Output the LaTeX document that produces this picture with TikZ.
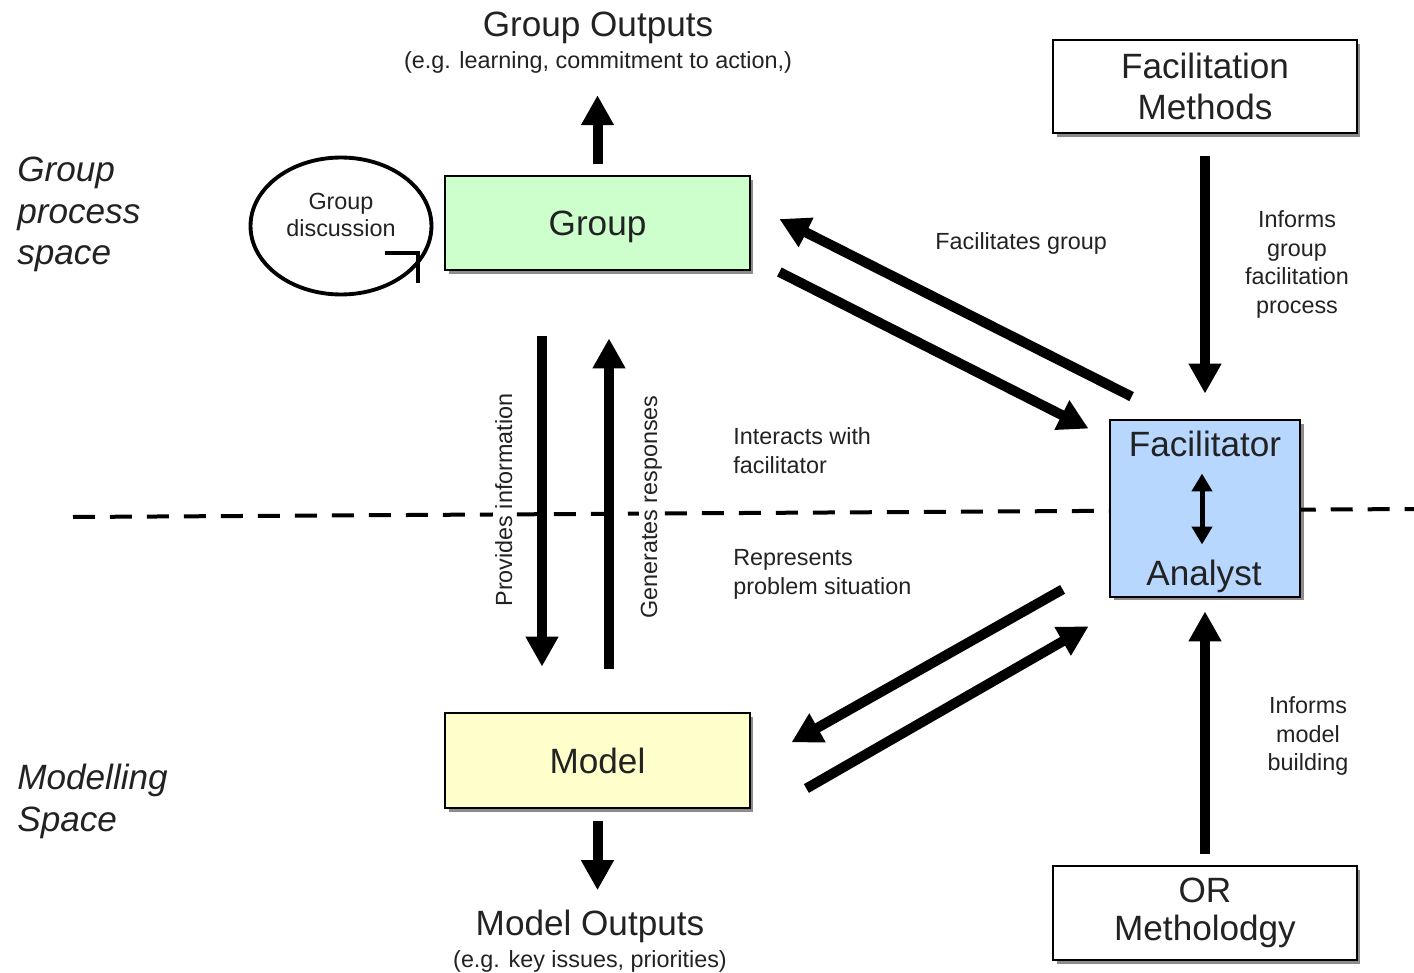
\documentclass[tikz,border=0pt]{standalone}
\usepackage{fontspec}
\setmainfont{Liberation Sans}
\usetikzlibrary{arrows.meta,shapes.geometric,shadows}

\definecolor{txt}{RGB}{34,34,34}
\definecolor{grpfill}{RGB}{204,255,204}
\definecolor{modfill}{RGB}{255,255,204}
\definecolor{fafill}{RGB}{183,215,255}

\begin{document}
\begin{tikzpicture}[x=0.02cm,y=-0.02cm,
  box/.style={draw=black, line width=1.6pt, inner sep=0pt, align=center, text=txt,
    font=\fontsize{20}{23.3}\selectfont,
    drop shadow={shadow xshift=2pt, shadow yshift=-2pt, opacity=0.45, fill=black}},
  bigarrow/.style={line width=0.2cm, -{Triangle[length=0.6cm,width=0.62cm]}},
  bigtext/.style={font=\fontsize{20}{23.3}\selectfont, text=txt, inner sep=0pt},
  smalltext/.style={font=\fontsize{13.3}{16.4}\selectfont, text=txt, inner sep=0pt},
  sidelabel/.style={smalltext, rotate=90, anchor=base, fill=white, inner xsep=2pt, inner ysep=1pt},
  spacelabel/.style={font=\itshape\fontsize{20}{23.5}\selectfont, text=txt, inner sep=0pt, align=left, anchor=north west},
  divider/.style={line width=0.08cm, dash pattern=on 0.44cm off 0.3cm}
]
\useasboundingbox (0,0) rectangle (1414,973);

% dividing dashed line
\coordinate (dl) at (73,517);
\coordinate (dr) at (1414,509);
\draw[divider] (dl) -- (dr);

% boxes
\node[box, fill=grpfill, minimum width=6.1cm, minimum height=1.88cm, text depth=0pt] (group) at (597.5,223) {Group};
\node[box, fill=modfill, minimum width=6.1cm, minimum height=1.9cm, text depth=0pt] (model) at (597.5,760.5) {Model};
\node[box, fill=white, minimum width=6.08cm, minimum height=1.86cm] (fm) at (1205,86.5) {Facilitation\\Methods};
\node[box, fill=white, minimum width=6.08cm, minimum height=1.88cm, font=\fontsize{20}{21.6}\selectfont] (orm) at (1205,913) {OR\\Metholodgy};
\node[box, fill=fafill, minimum width=3.8cm, minimum height=3.54cm] (fa) at (1205,508.5) {};
\node[bigtext, anchor=base] (fac) at (1205,457) {Facilitator};
\node[bigtext, anchor=base] (ana) at (1204,585) {Analyst};
\draw[line width=0.1cm, {Triangle[length=0.36cm,width=0.4cm]}-{Triangle[length=0.36cm,width=0.4cm]}]
  ([shift={(-3,-35)}]fa.center) -- ([shift={(-3,36)}]fa.center);

% group discussion loop
\node[ellipse, draw=black, line width=2.2pt, minimum width=3.62cm, minimum height=2.74cm, inner sep=0pt] (gd) at (341,226) {};
\node[smalltext, font=\fontsize{13.3}{15.3}\selectfont, align=center, anchor=north] (gdtext) at (341,193) {Group\\discussion};
\draw[line width=2.2pt] ([shift={(44,27)}]gd.center) -- ([shift={(77,27)}]gd.center) -- ([shift={(77,57)}]gd.center);

% outputs
\node[bigtext, anchor=base] (go) at (598,37) {Group Outputs};
\node[smalltext, anchor=base] (gosub) at (598,69) {(e.g. learning, commitment to action,)};
\node[bigtext, anchor=base] (mo) at (590,935) {Model Outputs};
\node[smalltext, anchor=base] (mosub) at (590,967) {(e.g. key issues, priorities)};

\draw[bigarrow, shorten <=0.22cm, shorten >=0.42cm] (group.north) -- (group.north |- gosub.south);
\draw[bigarrow, shorten <=0.24cm, shorten >=0.38cm] (model.south) -- (model.south |- mo.north);

% group <-> model
\node[sidelabel] (pinfo) at (512,500) {Provides information};
\node[sidelabel] (gresp) at (657,507) {Generates responses};
\draw[bigarrow, shorten <=1.3cm, shorten >=0.9cm] ([shift={(-55.5,0)}]group.south) -- ([shift={(-55.5,0)}]model.north);
\draw[bigarrow, shorten <=0.86cm, shorten >=1.34cm] ([shift={(11.5,0)}]model.north) -- ([shift={(11.5,0)}]group.south);

% group <-> facilitator
\draw[bigarrow] ([shift={(23,-22)}]fa.north west) -- ([shift={(28,-4)}]group.east);
\draw[bigarrow] ([shift={(28,49)}]group.east) -- ([shift={(-20,10)}]fa.north west);
\node[smalltext, anchor=base west] (fgroup) at (935,250) {Facilitates group};
\node[smalltext, align=left, anchor=north west] (inter) at (733,427) {Interacts with\\facilitator};

% model <-> facilitator
\draw[bigarrow] ([shift={(-46,-9)}]fa.south west) -- ([shift={(40,-18)}]model.east);
\draw[bigarrow] ([shift={(55,28)}]model.east) -- ([shift={(-20,28)}]fa.south west);
\node[smalltext, align=left, anchor=north west] (repr) at (733,549) {Represents\\problem situation};

% methods -> facilitator
\draw[bigarrow, shorten <=0.44cm, shorten >=0.5cm] (fm.south) -- (fa.north);
\draw[bigarrow, shorten <=0.22cm, shorten >=0.26cm] (orm.north) -- (fa.south);
\node[smalltext, align=center, anchor=north] (igroup) at (1297,210) {Informs\\group\\facilitation\\process};
\node[smalltext, align=center, anchor=north] (imodel) at (1308,696) {Informs\\model\\building};

% space labels
\node[spacelabel] (gps) at (17,157) {Group\\process\\space};
\node[spacelabel] (msp) at (17,764) {Modelling\\Space};
\end{tikzpicture}
\end{document}
